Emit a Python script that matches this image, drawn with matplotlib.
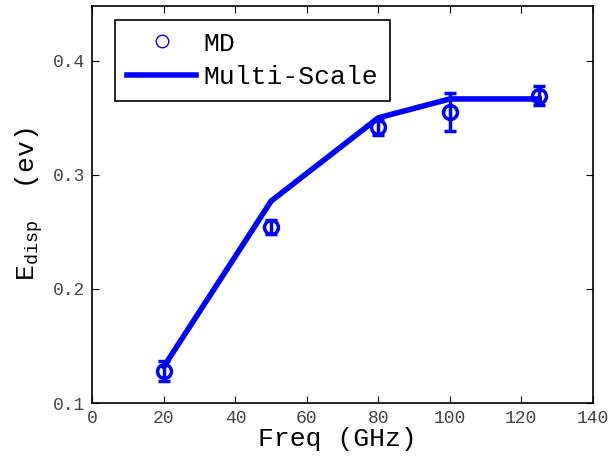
import matplotlib
matplotlib.use("Agg")
import matplotlib.pyplot as plt
from matplotlib.lines import Line2D

plt.rcParams['font.family'] = ['Liberation Mono', 'DejaVu Sans Mono']
plt.rcParams['mathtext.default'] = 'regular'

freq = [20, 50, 80, 100, 125]
md = [0.128, 0.2545, 0.3415, 0.355, 0.3695]
md_err = [0.0085, 0.006, 0.0065, 0.0165, 0.0085]
multi_scale = [0.132, 0.277, 0.350, 0.3665, 0.3665]

fig = plt.figure(figsize=(6.08, 4.58), dpi=100)
ax = fig.add_axes([0.152, 0.12, 0.823, 0.867])

ax.plot(freq, multi_scale, color='#0000ff', lw=4, solid_joinstyle='miter')
ax.errorbar(freq, md, yerr=md_err, fmt='o', color='#0000ff', mfc='none',
            mec='#0000ff', mew=2.5, ms=10, elinewidth=2.5, capsize=4,
            capthick=2.5)

ax.set_xlim(0, 140)
ax.set_ylim(0.1, 0.448)
ax.set_xticks([0, 20, 40, 60, 80, 100, 120, 140])
ax.set_yticks([0.1, 0.2, 0.3, 0.4])
ax.tick_params(direction='in', top=True, right=True, length=5, width=0.8,
               labelsize=13, labelcolor='#444444', pad=5)
for s in ax.spines.values():
    s.set_linewidth(1.2)

ax.set_xlabel('Freq (GHz)', fontsize=19, labelpad=0)
ax.set_ylabel('E$_{disp}$  (ev)', fontsize=19, labelpad=6)
ax.xaxis.set_label_coords(0.49, -0.06)

handles = [
    Line2D([], [], ls='none', marker='o', ms=9, mfc='none', mec='#0000ff', mew=1),
    Line2D([], [], color='#0000ff', lw=4),
]
leg = ax.legend(handles, ['MD', 'Multi-Scale'], loc='upper left',
                bbox_to_anchor=(0.046, 0.965), borderaxespad=0, fontsize=19,
                fancybox=False, edgecolor='black', framealpha=1,
                handlelength=2.6, handletextpad=0.3, borderpad=0.45,
                labelspacing=0.35)
leg.get_frame().set_linewidth(1.2)

fig.savefig('out.png', dpi=100)
